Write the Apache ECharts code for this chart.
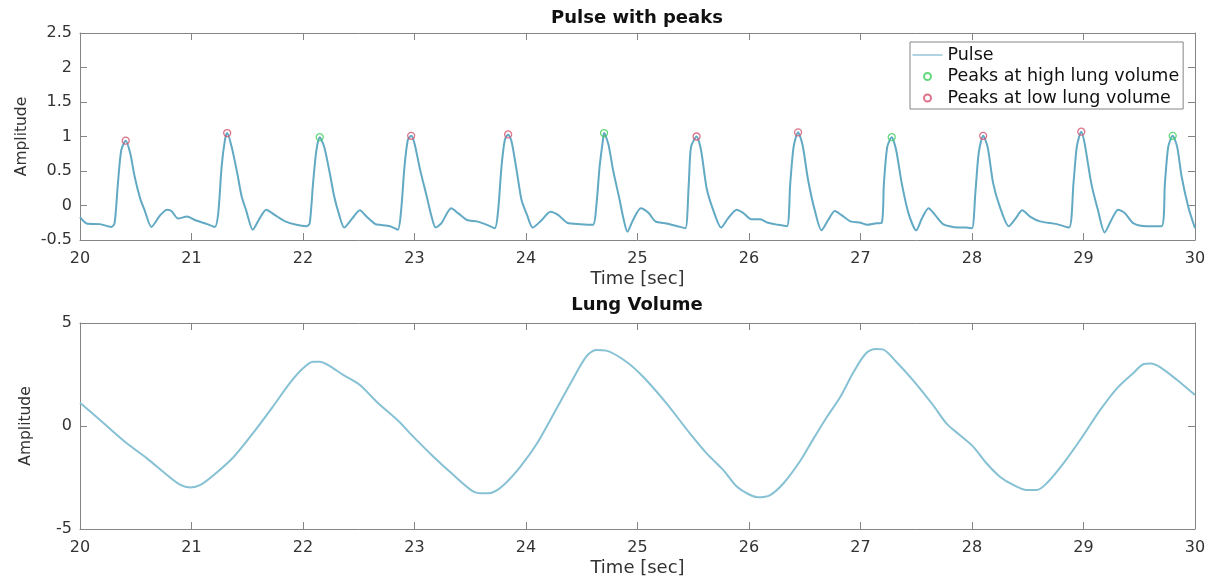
<!DOCTYPE html>
<html>
<head>
<meta charset="utf-8">
<script src="https://cdn.jsdelivr.net/npm/echarts@6/dist/echarts.min.js"></script>
<style>
html,body{margin:0;padding:0;background:#fff;}
#c{width:1212px;height:584px;}
</style>
</head>
<body>
<div id="c"></div>
<script>
// ---- Data ----
const pulseT = [20.00,20.06,20.18,20.28,20.31,20.34,20.37,20.41,20.45,20.49,20.54,20.58,20.64,20.72,20.78,20.82,20.88,20.96,21.03,21.14,21.21,
21.24,21.27,21.30,21.32,21.36,21.41,21.45,21.49,21.55,21.61,21.67,21.75,21.84,21.94,22.03,
22.06,22.09,22.12,22.15,22.19,22.24,22.28,22.32,22.37,22.44,22.51,22.57,22.65,22.69,22.78,22.85,
22.88,22.91,22.94,22.97,23.00,23.05,23.11,23.15,23.19,23.24,23.33,23.39,23.47,23.56,23.65,23.72,
23.75,23.78,23.81,23.84,23.87,23.92,23.96,24.01,24.06,24.13,24.22,24.29,24.37,24.49,24.60,
24.63,24.66,24.69,24.70,24.74,24.78,24.84,24.87,24.91,24.96,25.03,25.10,25.16,25.26,25.38,25.43,
25.46,25.48,25.53,25.57,25.62,25.68,25.75,25.81,25.89,25.95,26.02,26.10,26.17,26.26,26.34,
26.37,26.40,26.44,26.48,26.53,26.59,26.65,26.71,26.77,26.83,26.91,27.00,27.06,27.13,27.19,
27.21,27.24,27.28,27.32,27.37,27.43,27.50,27.55,27.61,27.67,27.74,27.83,27.95,28.00,
28.03,28.06,28.10,28.14,28.19,28.25,28.33,28.39,28.45,28.52,28.61,28.76,28.87,
28.91,28.94,28.98,29.01,29.07,29.13,29.19,29.25,29.31,29.37,29.45,29.57,29.70,
29.73,29.76,29.80,29.84,29.88,29.94,30.00];
const pulseV = [-0.17,-0.26,-0.27,-0.31,-0.26,0.32,0.80,0.94,0.76,0.42,0.10,-0.07,-0.31,-0.14,-0.06,-0.08,-0.19,-0.16,-0.21,-0.27,-0.31,
-0.11,0.56,0.95,1.05,0.85,0.47,0.13,-0.07,-0.35,-0.19,-0.06,-0.14,-0.23,-0.28,-0.30,
-0.26,0.32,0.80,0.99,0.85,0.47,0.13,-0.11,-0.32,-0.19,-0.07,-0.16,-0.27,-0.28,-0.30,-0.35,
-0.07,0.56,0.95,1.01,0.90,0.52,0.13,-0.14,-0.32,-0.26,-0.04,-0.11,-0.21,-0.23,-0.28,-0.33,
-0.07,0.56,0.95,1.03,0.93,0.47,0.08,-0.14,-0.32,-0.23,-0.09,-0.14,-0.25,-0.27,-0.28,
-0.02,0.56,0.95,1.05,0.88,0.52,0.08,-0.16,-0.38,-0.21,-0.04,-0.11,-0.23,-0.26,-0.31,-0.33,
0.32,0.85,1.00,0.80,0.25,-0.07,-0.32,-0.19,-0.06,-0.11,-0.20,-0.20,-0.25,-0.28,-0.30,
0.32,0.85,1.06,0.88,0.37,-0.07,-0.36,-0.21,-0.08,-0.14,-0.23,-0.25,-0.28,-0.26,-0.25,
0.32,0.85,0.99,0.80,0.32,-0.11,-0.36,-0.19,-0.04,-0.14,-0.27,-0.31,-0.32,-0.33,
0.18,0.76,1.01,0.85,0.32,-0.02,-0.30,-0.19,-0.07,-0.16,-0.23,-0.27,-0.32,
0.32,0.85,1.07,0.90,0.32,-0.07,-0.39,-0.21,-0.06,-0.11,-0.26,-0.30,-0.30,
0.32,0.85,1.01,0.85,0.42,-0.02,-0.33];

const highT = [22.15,24.70,27.28,29.80];
const highV = [0.99,1.05,0.99,1.01];
const lowT  = [20.41,21.32,22.97,23.84,25.53,26.44,28.10,28.98];
const lowV  = [0.94,1.05,1.01,1.03,1.00,1.06,1.01,1.07];

const lungT = [20.00,20.18,20.42,20.60,20.78,20.90,20.99,21.08,21.20,21.38,21.55,21.73,21.88,22.00,22.09,22.15,22.24,22.36,22.51,22.66,
22.87,22.96,23.17,23.35,23.53,23.62,23.69,23.80,23.95,24.10,24.25,24.40,24.54,24.63,24.72,24.90,25.05,25.26,25.47,25.62,25.77,25.89,
26.01,26.08,26.19,26.31,26.46,26.58,26.70,26.82,26.94,27.05,27.14,27.20,27.32,27.47,27.65,27.77,27.89,28.01,28.13,28.25,28.37,28.49,
28.58,28.67,28.82,28.97,29.15,29.30,29.45,29.54,29.60,29.69,29.84,30.00];
const lungV = [1.13,0.29,-0.84,-1.57,-2.38,-2.86,-2.98,-2.86,-2.38,-1.49,-0.36,0.94,2.07,2.80,3.12,3.12,2.91,2.48,1.99,1.18,
0.17,-0.36,-1.49,-2.38,-3.19,-3.27,-3.24,-2.86,-1.97,-0.84,0.61,2.07,3.37,3.69,3.66,3.12,2.39,1.10,-0.36,-1.33,-2.14,-2.94,
-3.35,-3.46,-3.35,-2.78,-1.69,-0.60,0.45,1.42,2.64,3.53,3.74,3.72,3.12,2.23,1.02,0.13,-0.44,-1.00,-1.81,-2.46,-2.86,-3.11,
-3.11,-2.78,-1.81,-0.68,0.78,1.83,2.59,3.01,3.04,2.85,2.23,1.50];

const xRange = [20, 30, 1];
const pulseRange = [-0.5, 2.5, 0.5];
const lungRange = [-5, 5, 5];

const seriesNames = ['Pulse', 'Peaks at high lung volume', 'Peaks at low lung volume'];
const titles = ['Pulse with peaks', 'Lung Volume'];
const xName = 'Time [sec]';
const yName = 'Amplitude';

// ---- Styles ----
const FONT = 'DejaVu Sans';
const AX = '#858585';
const LBL = '#333';
const pulseColor = '#62a9c4';
const lungColor = '#86c1d4';
const highColor = '#3ccf5a';
const lowColor = '#d4506e';

function zip(a, b) { return a.map((v, i) => [v, b[i]]); }

function xAx(grid, pos, labels) {
  return {
    type: 'value', gridIndex: grid, position: pos,
    min: xRange[0], max: xRange[1], interval: xRange[2],
    name: labels ? xName : '', nameLocation: 'middle', nameGap: 30,
    nameTextStyle: { fontFamily: FONT, fontSize: 18, color: LBL },
    axisLine: { show: true, onZero: false, lineStyle: { color: AX, width: 1 } },
    axisTick: { show: true, inside: true, length: 7, lineStyle: { color: AX } },
    axisLabel: { show: labels, fontFamily: FONT, fontSize: 16, color: LBL, margin: 11 },
    splitLine: { show: false }
  };
}
function yAx(grid, pos, labels, r) {
  return {
    type: 'value', gridIndex: grid, position: pos,
    min: r[0], max: r[1], interval: r[2],
    name: labels ? yName : '', nameLocation: 'middle', nameGap: 46,
    nameTextStyle: { fontFamily: FONT, fontSize: 15.5, color: LBL },
    axisLine: { show: true, onZero: false, lineStyle: { color: AX, width: 1 } },
    axisTick: { show: true, inside: true, length: 7, lineStyle: { color: AX } },
    axisLabel: { show: labels, fontFamily: FONT, fontSize: 16, color: LBL, margin: 8 },
    splitLine: { show: false }
  };
}

const chart = echarts.init(document.getElementById('c'), null, { renderer: 'canvas' });
chart.setOption({
  backgroundColor: '#fff',
  animation: false,
  title: [
    { text: titles[0], left: 637, textAlign: 'center', top: 9, padding: 0,
      textStyle: { fontFamily: FONT, fontSize: 18, fontWeight: 'bold', color: '#111' } },
    { text: titles[1], left: 637, textAlign: 'center', top: 296, padding: 0,
      textStyle: { fontFamily: FONT, fontSize: 18, fontWeight: 'bold', color: '#111' } }
  ],
  grid: [
    { left: 80, right: 17, top: 33, height: 207 },
    { left: 80, right: 17, top: 323, height: 206 }
  ],
  xAxis: [xAx(0, 'bottom', true), xAx(0, 'top', false), xAx(1, 'bottom', true), xAx(1, 'top', false)],
  yAxis: [yAx(0, 'left', true, pulseRange), yAx(0, 'right', false, pulseRange),
          yAx(1, 'left', true, lungRange), yAx(1, 'right', false, lungRange)],
  legend: {
    orient: 'vertical', left: 910, top: 42,
    itemWidth: 30, itemHeight: 7, itemGap: 3.5,
    padding: [4, 4, 2, 2],
    borderColor: AX, borderWidth: 1, backgroundColor: '#fff',
    textStyle: { fontFamily: FONT, fontSize: 17.5, color: '#111' },
    data: [
      { name: seriesNames[0], itemStyle: { color: 'transparent', borderColor: 'transparent', borderWidth: 0 }, lineStyle: { width: 1 } },
      { name: seriesNames[1] },
      { name: seriesNames[2] }
    ]
  },
  series: [
    { name: seriesNames[0], type: 'line', xAxisIndex: 0, yAxisIndex: 0,
      data: zip(pulseT, pulseV), showSymbol: false, symbol: 'none', smooth: 0.25,
      lineStyle: { color: pulseColor, width: 2 }, itemStyle: { color: pulseColor }, z: 2 },
    { name: seriesNames[1], type: 'scatter', xAxisIndex: 0, yAxisIndex: 0,
      data: zip(highT, highV), symbol: 'circle', symbolSize: 7,
      itemStyle: { color: 'transparent', borderColor: highColor, borderWidth: 1.3 }, z: 3 },
    { name: seriesNames[2], type: 'scatter', xAxisIndex: 0, yAxisIndex: 0,
      data: zip(lowT, lowV), symbol: 'circle', symbolSize: 7,
      itemStyle: { color: 'transparent', borderColor: lowColor, borderWidth: 1.3 }, z: 3 },
    { name: 'Lung Volume', type: 'line', xAxisIndex: 2, yAxisIndex: 2,
      data: zip(lungT, lungV), showSymbol: false, symbol: 'none', smooth: 0.3,
      lineStyle: { color: lungColor, width: 2 } }
  ]
});
</script>
</body>
</html>
